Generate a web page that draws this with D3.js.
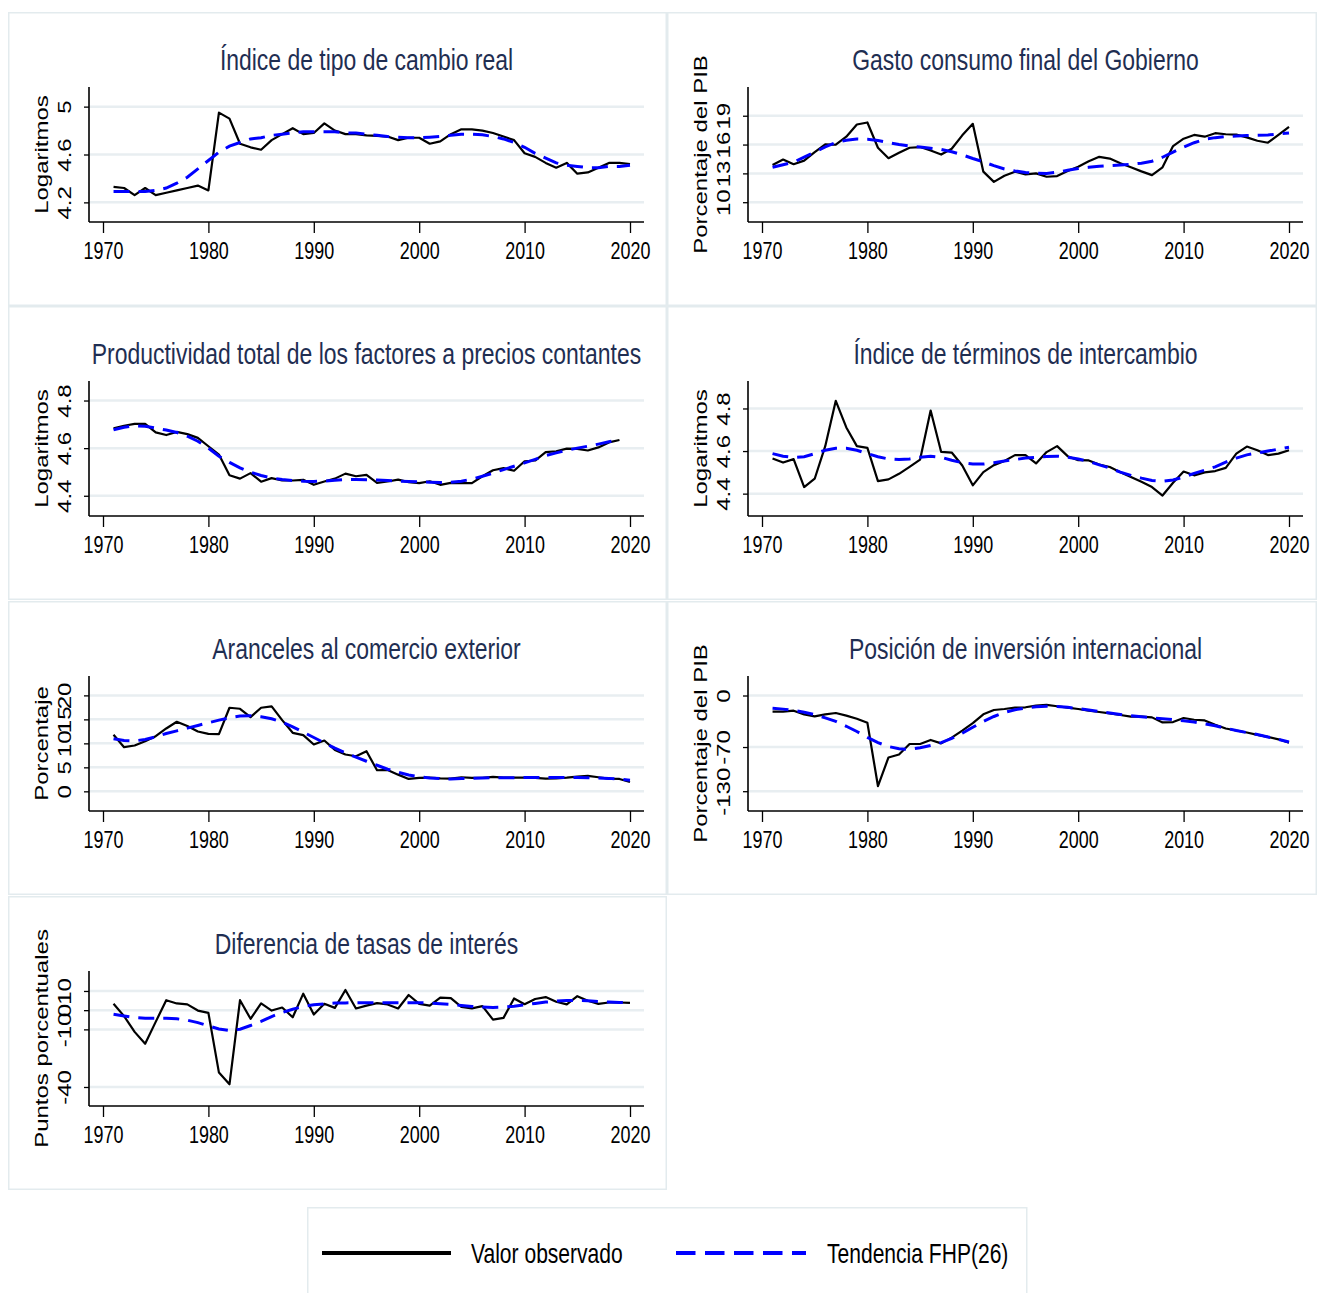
<!DOCTYPE html>
<html>
<head>
<meta charset="utf-8">
<script src="https://cdn.jsdelivr.net/npm/d3@7"></script>
<style>
  body { margin: 0; background: #fff; }
  text { font-family: "Liberation Sans", Arial, sans-serif; }
</style>
</head>
<body>
<svg id="chart" width="1318" height="1293"></svg>
<script>
// years on the x axis
const years = d3.range(1971, 2021);
const xTicks = [1970, 1980, 1990, 2000, 2010, 2020];

// indice de tipo de cambio real (logaritmos)
const tcrObs = [4.33, 4.32, 4.26, 4.32, 4.26, 4.28, 4.30, 4.32, 4.34, 4.30,
  4.95, 4.90, 4.69, 4.66, 4.64, 4.72, 4.77, 4.82, 4.77, 4.78,
  4.86, 4.80, 4.77, 4.77, 4.76, 4.755, 4.75, 4.72, 4.74, 4.74,
  4.69, 4.71, 4.77, 4.81, 4.81, 4.80, 4.78, 4.75, 4.72, 4.61,
  4.58, 4.53, 4.49, 4.53, 4.44, 4.45, 4.49, 4.53, 4.53, 4.52];
const tcrTrend = [4.29, 4.29, 4.29, 4.29, 4.30, 4.32, 4.36, 4.41, 4.48, 4.55,
  4.62, 4.67, 4.70, 4.73, 4.74, 4.76, 4.77, 4.78, 4.79, 4.79,
  4.79, 4.79, 4.78, 4.78, 4.77, 4.76, 4.75, 4.745, 4.74, 4.74,
  4.745, 4.75, 4.76, 4.77, 4.77, 4.765, 4.75, 4.73, 4.70, 4.66,
  4.61, 4.57, 4.53, 4.51, 4.50, 4.49, 4.49, 4.50, 4.50, 4.51];
const tcrTicks = [4.2, 4.6, 5];

// gasto consumo final del gobierno (% PIB)
const gastoObs = [13.88, 14.44, 13.95, 14.33, 15.21, 16.02, 15.98, 16.82, 18.09, 18.30,
  15.67, 14.58, 15.14, 15.67, 15.74, 15.39, 14.96, 15.56, 16.96, 18.16,
  13.18, 12.12, 12.75, 13.18, 12.90, 13.00, 12.65, 12.72, 13.25, 13.70,
  14.26, 14.72, 14.54, 14.05, 13.63, 13.21, 12.82, 13.63, 15.84, 16.61,
  17.00, 16.82, 17.18, 17.07, 17.04, 16.75, 16.40, 16.19, 17.00, 17.84];
const gastoTrend = [13.63, 13.90, 14.16, 14.70, 15.20, 15.75, 16.20, 16.45, 16.58, 16.55,
  16.42, 16.20, 16.00, 15.85, 15.74, 15.62, 15.49, 15.25, 14.93, 14.55,
  14.20, 13.81, 13.46, 13.25, 13.10, 13.02, 13.00, 13.12, 13.32, 13.50,
  13.63, 13.73, 13.81, 13.88, 13.95, 14.06, 14.26, 14.68, 15.21, 15.74,
  16.19, 16.54, 16.72, 16.82, 16.89, 16.93, 16.96, 17.00, 17.10, 17.21];
const gastoTicks = [10, 13, 16, 19];

// productividad total de los factores (logaritmos), hasta 2019
const ptfObs = [4.683, 4.694, 4.702, 4.702, 4.666, 4.655, 4.668, 4.659, 4.643, 4.608,
  4.573, 4.486, 4.472, 4.495, 4.459, 4.474, 4.464, 4.464, 4.467, 4.446,
  4.460, 4.472, 4.493, 4.482, 4.488, 4.454, 4.460, 4.468, 4.457, 4.453,
  4.461, 4.446, 4.454, 4.453, 4.453, 4.482, 4.507, 4.516, 4.505, 4.545,
  4.548, 4.583, 4.587, 4.598, 4.597, 4.590, 4.603, 4.624, 4.634];
const ptfTrend = [4.677, 4.688, 4.694, 4.692, 4.684, 4.676, 4.666, 4.650, 4.629, 4.600,
  4.566, 4.540, 4.517, 4.499, 4.485, 4.475, 4.468, 4.464, 4.461, 4.460,
  4.462, 4.465, 4.468, 4.468, 4.467, 4.466, 4.464, 4.462, 4.460, 4.458,
  4.457, 4.456, 4.457, 4.461, 4.470, 4.482, 4.495, 4.510, 4.524, 4.538,
  4.553, 4.569, 4.580, 4.591, 4.600, 4.608, 4.617, 4.627, 4.636];
const ptfTicks = [4.4, 4.6, 4.8];

// indice de terminos de intercambio (logaritmos)
const tdiObs = [4.565, 4.546, 4.562, 4.431, 4.470, 4.623, 4.836, 4.711, 4.623, 4.615,
  4.459, 4.467, 4.493, 4.526, 4.560, 4.790, 4.596, 4.593, 4.532, 4.439,
  4.501, 4.534, 4.553, 4.581, 4.581, 4.542, 4.595, 4.623, 4.576, 4.557,
  4.556, 4.537, 4.525, 4.501, 4.478, 4.456, 4.431, 4.391, 4.451, 4.504,
  4.486, 4.500, 4.506, 4.521, 4.588, 4.621, 4.604, 4.581, 4.588, 4.604];
const tdiTrend = [4.588, 4.576, 4.570, 4.573, 4.588, 4.604, 4.613, 4.613, 4.604, 4.588,
  4.573, 4.563, 4.560, 4.563, 4.571, 4.576, 4.571, 4.557, 4.545, 4.539,
  4.539, 4.545, 4.553, 4.560, 4.567, 4.571, 4.574, 4.576, 4.571, 4.563,
  4.551, 4.535, 4.520, 4.501, 4.486, 4.473, 4.462, 4.458, 4.464, 4.478,
  4.495, 4.510, 4.526, 4.548, 4.567, 4.582, 4.591, 4.600, 4.609, 4.618];
const tdiTicks = [4.4, 4.6, 4.8];

// aranceles al comercio exterior (%)
const arancelObs = [11.78, 9.20, 9.55, 10.45, 11.50, 13.10, 14.50, 13.60, 12.47, 11.99,
  11.92, 17.42, 17.21, 15.47, 17.42, 17.70, 14.84, 12.20, 11.71, 9.76,
  10.59, 8.64, 7.67, 7.32, 8.36, 4.39, 4.46, 3.48, 2.58, 2.79,
  2.86, 2.72, 2.65, 2.93, 2.79, 2.79, 3.00, 2.86, 2.86, 2.86,
  2.79, 2.65, 2.72, 2.86, 3.07, 3.21, 2.93, 2.65, 2.58, 1.95];
const arancelTrend = [10.94, 10.59, 10.52, 10.80, 11.36, 12.06, 12.61, 13.17, 13.73, 14.29,
  14.84, 15.33, 15.68, 15.75, 15.54, 15.12, 14.43, 13.45, 12.33, 11.22,
  10.10, 8.99, 8.01, 7.11, 6.27, 5.44, 4.60, 3.97, 3.41, 3.07,
  2.79, 2.65, 2.58, 2.65, 2.72, 2.79, 2.82, 2.84, 2.85, 2.86,
  2.86, 2.86, 2.86, 2.86, 2.86, 2.84, 2.80, 2.70, 2.55, 2.30];
const arancelTicks = [0, 5, 10, 15, 20];

// posicion de inversion internacional (% PIB)
const piiObs = [-22.0, -22.0, -20.6, -25.6, -28.4, -25.6, -23.8, -27.4, -31.6, -37.1,
  -123.0, -84.2, -80.1, -65.9, -65.9, -60.4, -65.0, -57.2, -47.6, -37.5,
  -25.6, -19.7, -18.3, -16.5, -16.0, -13.7, -12.8, -14.6, -16.5, -18.3,
  -20.6, -22.4, -24.2, -26.5, -28.8, -28.8, -29.7, -36.6, -36.1, -30.6,
  -32.9, -33.9, -39.8, -44.8, -47.6, -50.3, -53.5, -56.3, -59.5, -64.0];
const piiTrend = [-17.4, -18.5, -20.1, -22.8, -26.1, -30.3, -35.2, -41.8, -48.9, -56.8,
  -64.0, -69.3, -72.3, -73.2, -70.9, -68.0, -64.0, -58.3, -51.2, -43.2,
  -35.2, -28.5, -22.9, -19.3, -16.9, -15.2, -14.6, -15.0, -16.0, -17.8,
  -19.7, -21.8, -23.8, -25.7, -27.4, -28.9, -30.2, -31.6, -32.9, -34.4,
  -36.1, -38.5, -41.2, -44.4, -47.6, -50.4, -53.1, -56.4, -59.7, -63.1];
const piiTicks = [-130, -70, 0];

// diferencia de tasas de interes (puntos porcentuales)
const tasasObs = [3.3, -3.1, -11.3, -17.5, -6.1, 5.2, 3.5, 3.0, -0.2, -1.4,
  -32.5, -38.6, 5.2, -4.5, 3.5, -0.2, 1.4, -3.7, 8.6, -2.3,
  3.3, 1.2, 10.5, 0.9, 2.4, 3.7, 3.0, 0.9, 7.9, 3.3,
  2.4, 6.5, 6.3, 1.7, 0.9, 2.1, -4.9, -4.0, 6.1, 3.1,
  5.8, 6.8, 4.4, 3.0, 7.3, 4.9, 3.3, 4.0, 4.0, 3.8];
const tasasTrend = [-2.1, -3.0, -3.8, -4.2, -4.2, -4.2, -4.5, -5.2, -6.5, -8.2,
  -9.8, -10.6, -9.9, -8.0, -5.8, -3.3, -1.2, 0.5, 1.9, 2.8,
  3.3, 3.7, 3.8, 3.9, 3.9, 3.9, 3.9, 3.9, 3.9, 3.9,
  3.7, 3.3, 3.0, 2.4, 1.9, 1.6, 1.4, 1.6, 2.1, 2.8,
  3.5, 4.2, 4.7, 5.1, 5.1, 4.9, 4.5, 4.2, 4.0, 3.8];
const tasasTicks = [-40, -10, 0, 10];

const legendLabels = ["Valor observado", "Tendencia FHP(26)"];

// panel table built from the arrays above
const panels = [
  { title: "Índice de tipo de cambio real", ytitle: "Logaritmos", obs: tcrObs, trend: tcrTrend, ticks: tcrTicks, domain: [4.036, 5.164], col: 0, row: 0 },
  { title: "Gasto consumo final del Gobierno", ytitle: "Porcentaje del PIB", obs: gastoObs, trend: gastoTrend, ticks: gastoTicks, domain: [7.94, 21.99], col: 1, row: 0 },
  { title: "Productividad total de los factores a precios contantes", ytitle: "Logaritmos", obs: ptfObs, trend: ptfTrend, ticks: ptfTicks, domain: [4.315, 4.882], col: 0, row: 1 },
  { title: "Índice de términos de intercambio", ytitle: "Logaritmos", obs: tdiObs, trend: tdiTrend, ticks: tdiTicks, domain: [4.295, 4.929], col: 1, row: 1 },
  { title: "Aranceles al comercio exterior", ytitle: "Porcentaje", obs: arancelObs, trend: arancelTrend, ticks: arancelTicks, domain: [-4.1, 24.04], col: 0, row: 2 },
  { title: "Posición de inversión internacional", ytitle: "Porcentaje del PIB", obs: piiObs, trend: piiTrend, ticks: piiTicks, domain: [-156.9, 26.5], col: 1, row: 2 },
  { title: "Diferencia de tasas de interés", ytitle: "Puntos porcentuales", obs: tasasObs, trend: tasasTrend, ticks: tasasTicks, domain: [-49.9, 20.4], col: 0, row: 3 },
];

// the source picture is squeezed horizontally, text included
const SX = 0.78;
const titleSX = 0.765;
const colLeft = [8, 667];
const colRight = [667, 1317];
const rowTop = [12, 306, 601, 896];
const frameColor = "#e3ebee";
const gridColor = "#e8eef1";
const titleColor = "#1f2e52";

const svg = d3.select("#chart");

panels.forEach(drawPanel);
drawLegend();

function drawPanel(p) {
  const x0 = colLeft[p.col];
  const top = rowTop[p.row];
  const g = svg.append("g");

  g.append("rect")
    .attr("x", x0 + 0.75)
    .attr("y", top + 0.75)
    .attr("width", colRight[p.col] - x0 - 1.5)
    .attr("height", 294 - 1.5)
    .attr("fill", "none")
    .attr("stroke", frameColor)
    .attr("stroke-width", 1.5);

  const left = x0 + 81,
    right = x0 + 636,
    plotTop = top + 75,
    plotBottom = top + 210;

  const x = d3.scaleLinear().domain([1970, 2020]).range([left + 14, right - 14]);
  const y = d3.scaleLinear().domain(p.domain).range([plotBottom, plotTop]);

  // gridlines
  g.selectAll(".grid")
    .data(p.ticks)
    .join("line")
    .attr("x1", left)
    .attr("x2", right)
    .attr("y1", (d) => y(d))
    .attr("y2", (d) => y(d))
    .attr("stroke", gridColor)
    .attr("stroke-width", 2.5);

  // x axis
  const xAxis = g
    .append("g")
    .attr("transform", `translate(0,${plotBottom})`)
    .call(d3.axisBottom(x).tickValues(xTicks).tickSize(11).tickFormat(d3.format("d")));
  xAxis.select(".domain").remove();
  xAxis.selectAll(".tick line").attr("stroke", "#000").attr("stroke-width", 1.3);
  xAxis
    .selectAll(".tick text")
    .attr("y", 0)
    .attr("dy", 0)
    .attr("transform", `translate(0,37) scale(${SX},1)`)
    .attr("font-size", 23)
    .attr("fill", "#000");

  // y axis, labels turned like the y title
  const yAxis = g
    .append("g")
    .attr("transform", `translate(${left},0)`)
    .call(d3.axisLeft(y).tickValues(p.ticks).tickSize(5).tickFormat((d) => String(d)));
  yAxis.select(".domain").remove();
  yAxis.selectAll(".tick line").attr("stroke", "#000").attr("stroke-width", 1.3);
  yAxis
    .selectAll(".tick text")
    .attr("x", 0)
    .attr("dy", 0)
    .attr("text-anchor", "middle")
    .attr("transform", `translate(-18,0) scale(${SX},1) rotate(-90)`)
    .attr("font-size", 24)
    .attr("fill", "#000");

  // axis lines
  g.append("line")
    .attr("x1", left).attr("x2", left)
    .attr("y1", plotTop).attr("y2", plotBottom)
    .attr("stroke", "#000").attr("stroke-width", 1.6);
  g.append("line")
    .attr("x1", left).attr("x2", right)
    .attr("y1", plotBottom).attr("y2", plotBottom)
    .attr("stroke", "#000").attr("stroke-width", 1.6);

  // titles
  g.append("text")
    .attr("transform", `translate(${(left + right) / 2},${top + 58}) scale(${titleSX},1)`)
    .attr("text-anchor", "middle")
    .attr("font-size", 30)
    .attr("fill", titleColor)
    .text(p.title);

  g.append("text")
    .attr("transform", `translate(${x0 + 40},${(plotTop + plotBottom) / 2}) scale(${SX},1) rotate(-90)`)
    .attr("text-anchor", "middle")
    .attr("font-size", 24)
    .attr("fill", "#000")
    .text(p.ytitle);

  const line = d3
    .line()
    .x((d, i) => x(years[i]))
    .y((d) => y(d));

  g.append("path")
    .datum(p.obs)
    .attr("fill", "none")
    .attr("stroke", "#000")
    .attr("stroke-width", 2.2)
    .attr("stroke-linejoin", "round")
    .attr("d", line);

  g.append("path")
    .datum(p.trend)
    .attr("fill", "none")
    .attr("stroke", "#0000ff")
    .attr("stroke-width", 3)
    .attr("stroke-dasharray", "16,9")
    .attr("d", line);
}

function drawLegend() {
  const lg = svg.append("g");
  lg.append("rect")
    .attr("x", 307.75)
    .attr("y", 1207.75)
    .attr("width", 719)
    .attr("height", 100)
    .attr("fill", "none")
    .attr("stroke", frameColor)
    .attr("stroke-width", 1.5);

  const keyY = 1253;
  lg.append("line")
    .attr("x1", 322).attr("x2", 451)
    .attr("y1", keyY).attr("y2", keyY)
    .attr("stroke", "#000").attr("stroke-width", 4);
  lg.append("line")
    .attr("x1", 676).attr("x2", 806)
    .attr("y1", keyY).attr("y2", keyY)
    .attr("stroke", "#0000ff").attr("stroke-width", 4)
    .attr("stroke-dasharray", "19.5,9.5");

  lg.selectAll(".lab")
    .data(legendLabels)
    .join("text")
    .attr("transform", (d, i) => `translate(${i == 0 ? 471 : 827},1263) scale(${SX},1)`)
    .attr("font-size", 27)
    .attr("fill", "#000")
    .text((d) => d);
}
</script>
</body>
</html>
